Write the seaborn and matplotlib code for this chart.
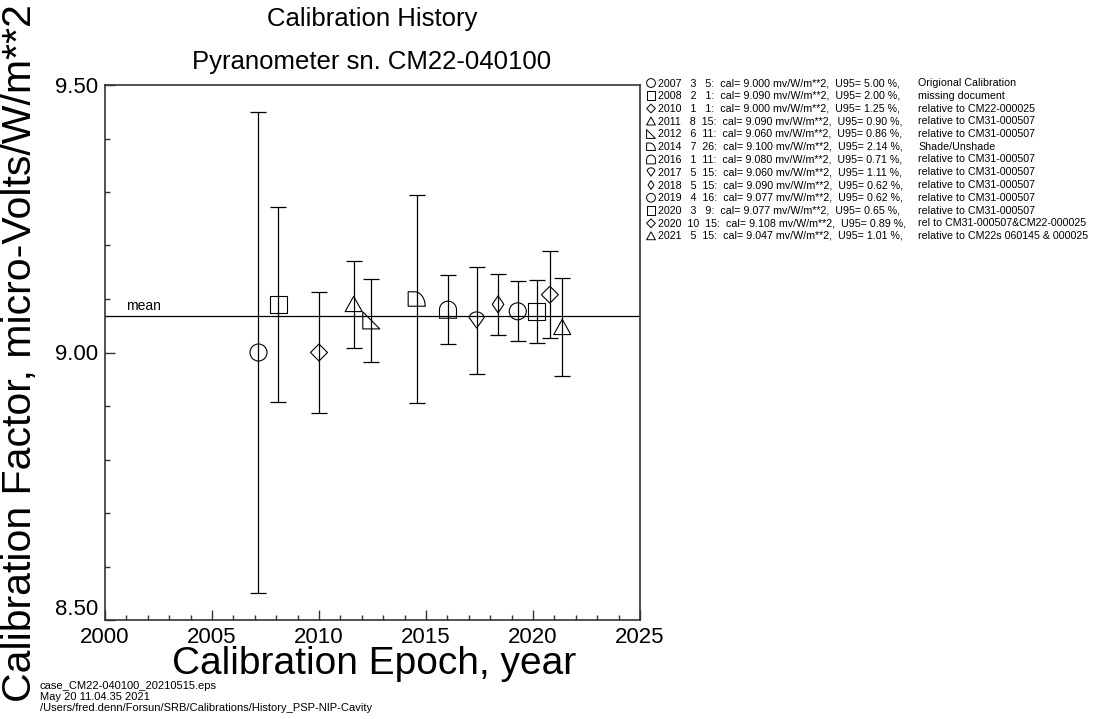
import matplotlib
matplotlib.use("Agg")
import matplotlib.pyplot as plt
from matplotlib.path import Path
from matplotlib.ticker import MultipleLocator, FormatStrFormatter
import numpy as np
import pandas as pd
import seaborn as sns

# calibration records
years = [2007, 2008, 2010, 2011, 2012, 2014, 2016, 2017, 2018, 2019, 2020, 2020, 2021]
months = [3, 2, 1, 8, 6, 7, 1, 5, 5, 4, 3, 10, 5]
days = [5, 1, 1, 15, 11, 26, 11, 15, 15, 16, 9, 15, 15]
cal = [9.000, 9.090, 9.000, 9.090, 9.060, 9.100, 9.080, 9.060, 9.090, 9.077, 9.077, 9.108, 9.047]
u95 = [5.00, 2.00, 1.25, 0.90, 0.86, 2.14, 0.71, 1.11, 0.62, 0.62, 0.65, 0.89, 1.01]
notes = ["Origional Calibration", "missing document", "relative to CM22-000025",
         "relative to CM31-000507", "relative to CM31-000507", "Shade/Unshade",
         "relative to CM31-000507", "relative to CM31-000507", "relative to CM31-000507",
         "relative to CM31-000507", "relative to CM31-000507",
         "rel to CM31-000507&CM22-000025", "relative to CM22s 060145 & 000025"]
sym_names = ["circle", "square", "diamond", "triangle", "rtri", "quarter", "dome",
             "shield", "thin", "circle", "square", "diamond", "triangle"]

df = pd.DataFrame({"year": years, "month": months, "day": days, "cal": cal, "u95": u95})
dates = pd.to_datetime(df[["year", "month", "day"]])
df["epoch"] = df["year"] + (dates.dt.dayofyear - 1) / 365.0
df["err"] = df["cal"] * df["u95"] / 100.0
df["key"] = dates.dt.strftime("%Y-%m-%d")
mean_cal = df["cal"].mean()


def arc(cx, cy, rx, ry, a0, a1, n=30):
    t = np.radians(np.linspace(a0, a1, n))
    return list(zip(cx + rx * np.cos(t), cy + ry * np.sin(t)))


def poly(pts):
    pts = list(pts)
    return Path(pts + [pts[0]], [Path.MOVETO] + [Path.LINETO] * (len(pts) - 1) + [Path.CLOSEPOLY])


shapes = {
    "circle": Path.unit_circle(),
    "square": poly([(-1, -1), (1, -1), (1, 1), (-1, 1)]),
    "diamond": poly([(0, -1), (1, 0), (0, 1), (-1, 0)]),
    "triangle": poly([(-1, -0.85), (1, -0.85), (0, 0.95)]),
    "rtri": poly([(-1, 1), (-1, -1), (1, -1)]),
    "quarter": poly([(-1, -0.85), (-1, 0.85)] + arc(-0.25, -0.85, 1.25, 1.7, 90, 0)),
    "dome": poly([(-1, -1), (1, -1), (1, 0)] + arc(0, 0, 1, 1, 0, 180)),
    "shield": poly(arc(0, 0.05, 1, 1, 161, 19) + [(0, -0.95)]),
    "thin": poly([(0, -1), (0.68, 0), (0, 1), (-0.68, 0)]),
}
marker_map = {k: shapes[s] for k, s in zip(df["key"], sym_names)}

sns.set_theme(style="white")
plt.rcParams["font.family"] = ["Liberation Sans", "DejaVu Sans"]
plt.rcParams["text.color"] = "black"
plt.rcParams["xtick.color"] = "black"
plt.rcParams["ytick.color"] = "black"

fig = plt.figure(figsize=(11.04, 7.19), dpi=100)
ax = fig.add_axes([105 / 1104, 99 / 719, 535 / 1104, 535 / 719])

ax.errorbar(df["epoch"], df["cal"], yerr=df["err"], fmt="none", ecolor="black",
            elinewidth=0.9, capsize=5.8, capthick=0.9, zorder=2)
sns.scatterplot(data=df, x="epoch", y="cal", style="key", style_order=list(df["key"]),
                markers=marker_map, s=150, color="black", facecolor="none",
                edgecolor="black", linewidth=0.8, legend=False, ax=ax, zorder=3)
ax.axhline(mean_cal, color="black", lw=0.9, zorder=1)
ax.text(2001, mean_cal + 0.006, "mean", fontsize=10, va="bottom", ha="left")

ax.set_xlim(2000, 2025)
ax.set_ylim(8.5, 9.5)
ax.xaxis.set_major_locator(MultipleLocator(5))
ax.xaxis.set_minor_locator(MultipleLocator(1))
ax.yaxis.set_major_locator(MultipleLocator(0.5))
ax.yaxis.set_minor_locator(MultipleLocator(0.1))
ax.yaxis.set_major_formatter(FormatStrFormatter("%.2f"))
ax.tick_params(which="both", direction="in", bottom=True, left=True, top=False, right=False,
               color="#333333", width=1, labelsize=16, pad=5, labelcolor="black")
ax.tick_params(which="major", length=7)
ax.tick_params(which="minor", length=3.6)
for sp in ax.spines.values():
    sp.set_color("#333333")
    sp.set_linewidth(1.2)
ax.set_xlabel("")
ax.set_ylabel("")
fig.canvas.draw()
# lowest y label sits above its tick so it clears the year labels
for t in ax.yaxis.get_major_ticks():
    if abs(t.get_loc() - 8.5) < 1e-6:
        t.label1.set_verticalalignment("bottom")

fig.text(372 / 1104, 1 - 19 / 719, "Calibration History", fontsize=18.5, ha="center", va="center")
fig.text(372 / 1104, 1 - 62 / 719, "Pyranometer sn. CM22-040100", fontsize=18.5, ha="center", va="center")
fig.text(374 / 1104, 1 - 664 / 719, "Calibration Epoch, year", fontsize=28, ha="center", va="center")
fig.text(20 / 1104, 1 - 353 / 719, "Calibration Factor, micro-Volts/W/m**2", fontsize=29.5,
         rotation=90, ha="center", va="center")

foot = ["case_CM22-040100_20210515.eps", "May 20 11.04.35 2021",
        "/Users/fred.denn/Forsun/SRB/Calibrations/History_PSP-NIP-Cavity"]
for i, line in enumerate(foot):
    fig.text(40 / 1104, 1 - (686 + 11 * i) / 719, line, fontsize=8, ha="left", va="center")

# legend block on the right
lax = fig.add_axes([0, 0, 1, 1])
lax.set_xlim(0, 1104)
lax.set_ylim(719, 0)
lax.axis("off")
for i in range(len(df)):
    yy = 83 + 12.75 * i
    r = df.iloc[i]
    lax.scatter([651], [yy], marker=shapes[sym_names[i]], s=40, facecolor="none",
                edgecolor="black", linewidth=0.7)
    txt = f"{r['year']}  {r['month']:2d}  {r['day']:2d}:  cal= {r['cal']:.3f} mv/W/m**2,  U95= {r['u95']:.2f} %,"
    lax.text(658, yy, txt, fontsize=7.7, ha="left", va="center")
    lax.text(918, yy, notes[i], fontsize=7.7, ha="left", va="center")

fig.savefig("out.png", dpi=100)
